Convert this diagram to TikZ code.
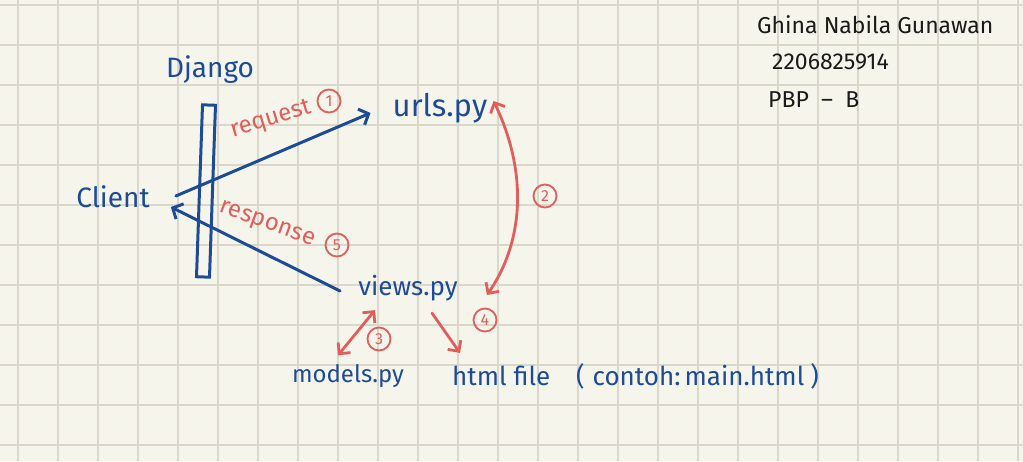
\documentclass[tikz,border=0pt]{standalone}
\usepackage{fontspec}
\setmainfont{Fira Sans}
\usetikzlibrary{arrows.meta,calc}
\definecolor{paper}{HTML}{F6F5EC}
\definecolor{gridc}{HTML}{DAD8CB}
\definecolor{inkblue}{HTML}{1E4B96}
\definecolor{inkred}{HTML}{E35D5A}
\definecolor{inkblack}{HTML}{1A1A1A}
\tikzset{
  gridline/.style={draw=gridc, line width=1.1pt},
  bluetext/.style={text=inkblue, inner sep=0pt, font=\fontsize{26}{28}\selectfont},
  redtext/.style={text=inkred, inner sep=0pt, font=\fontsize{24}{26}\selectfont},
  blacktext/.style={text=inkblack, inner sep=0pt, anchor=west, font=\fontsize{23}{24}\selectfont},
  bluearrow/.style={draw=inkblue, line width=3pt, line cap=round, line join=round,
    -{Straight Barb[length=8pt,width=17pt,line width=3pt]}},
  redarrow/.style={draw=inkred, line width=2.8pt, line cap=round, line join=round,
    -{Straight Barb[length=8pt,width=16pt,line width=2.8pt]}},
  redboth/.style={draw=inkred, line width=2.8pt, line cap=round, line join=round,
    {Straight Barb[length=8pt,width=16pt,line width=2.8pt]}-{Straight Barb[length=8pt,width=16pt,line width=2.8pt]}},
  numcircle/.style={circle, draw=inkred, line width=1.8pt, text=inkred, inner sep=0pt,
    minimum size=23pt, font=\fontsize{16}{16}\selectfont},
}
\begin{document}
\begin{tikzpicture}[x=1pt,y=-1pt]
\useasboundingbox (0,0) rectangle (1023,461);
\fill[paper] (0,0) rectangle (1023,461);
\foreach \gx in {18,58,...,1018} \draw[gridline] (\gx,0) -- (\gx,461);
\foreach \gy in {5,45,...,445} \draw[gridline] (0,\gy) -- (1023,\gy);

% nodes
\node[bluetext, font=\fontsize{28}{30}\selectfont] (django) at (210,70) {Django};
\node[draw=inkblue, line width=3pt, minimum width=13pt, minimum height=172pt, inner sep=0pt, rotate=-2] (bar) at (206,191) {};
\node[bluetext, font=\fontsize{28}{30}\selectfont] (client) at (113,197) {Client};
\node[bluetext, font=\fontsize{31}{32}\selectfont] (urls) at (440,108) {urls.py};
\node[bluetext] (views) at (408,288) {views.py};
\node[bluetext, font=\fontsize{24}{26}\selectfont] (models) at (348,376) {models.py};
\node[bluetext, anchor=west] (html) at (452,376) {html file\hspace{26pt}(\hspace{8pt}contoh:\hspace{4pt}main.html\hspace{6pt})};

\node[blacktext] (name) at (757,25) {Ghina Nabila Gunawan};
\node[blacktext] (npm) at (772,62) {2206825914};
\node[blacktext] (kelas) at (768,100) {PBP \ -- \ B};

% labels
\node[redtext, rotate=17] (req) at (271,120) {request};
\node[numcircle] (n1) at (329,101) {1};
\node[redtext, rotate=-20] (resp) at (267,225) {response};
\node[numcircle] (n5) at (337,245) {5};
\node[numcircle] (n2) at (545,196) {2};
\node[numcircle] (n3) at (379,339) {3};
\node[numcircle] (n4) at (485,320) {4};

% connectors
\coordinate (reqstart) at ($(client.east)+(26,-1)$);
\coordinate (reqend) at ($(urls.west)+(-22,5)$);
\draw[bluearrow] (reqstart) -- (reqend);
\coordinate (respstart) at ($(views.west)+(-18,3)$);
\coordinate (respend) at ($(client.east)+(21,10)$);
\draw[bluearrow] (respstart) -- (respend);

\coordinate (twoA) at ($(urls.east)+(6,-7)$);
\coordinate (twoB) at ($(views.east)+(29,7)$);
\draw[redboth] (twoA) .. controls (527,170) and (525,240) .. (twoB);

\coordinate (threeA) at ($(views.south)+(-33,9)$);
\coordinate (threeB) at ($(models.north)+(-10,-9)$);
\draw[redboth] (threeA) -- (threeB);

\coordinate (fourA) at ($(views.south)+(24,12)$);
\coordinate (fourB) at ($(html.north west)+(8,-10)$);
\draw[redarrow] (fourA) -- (fourB);
\end{tikzpicture}
\end{document}
